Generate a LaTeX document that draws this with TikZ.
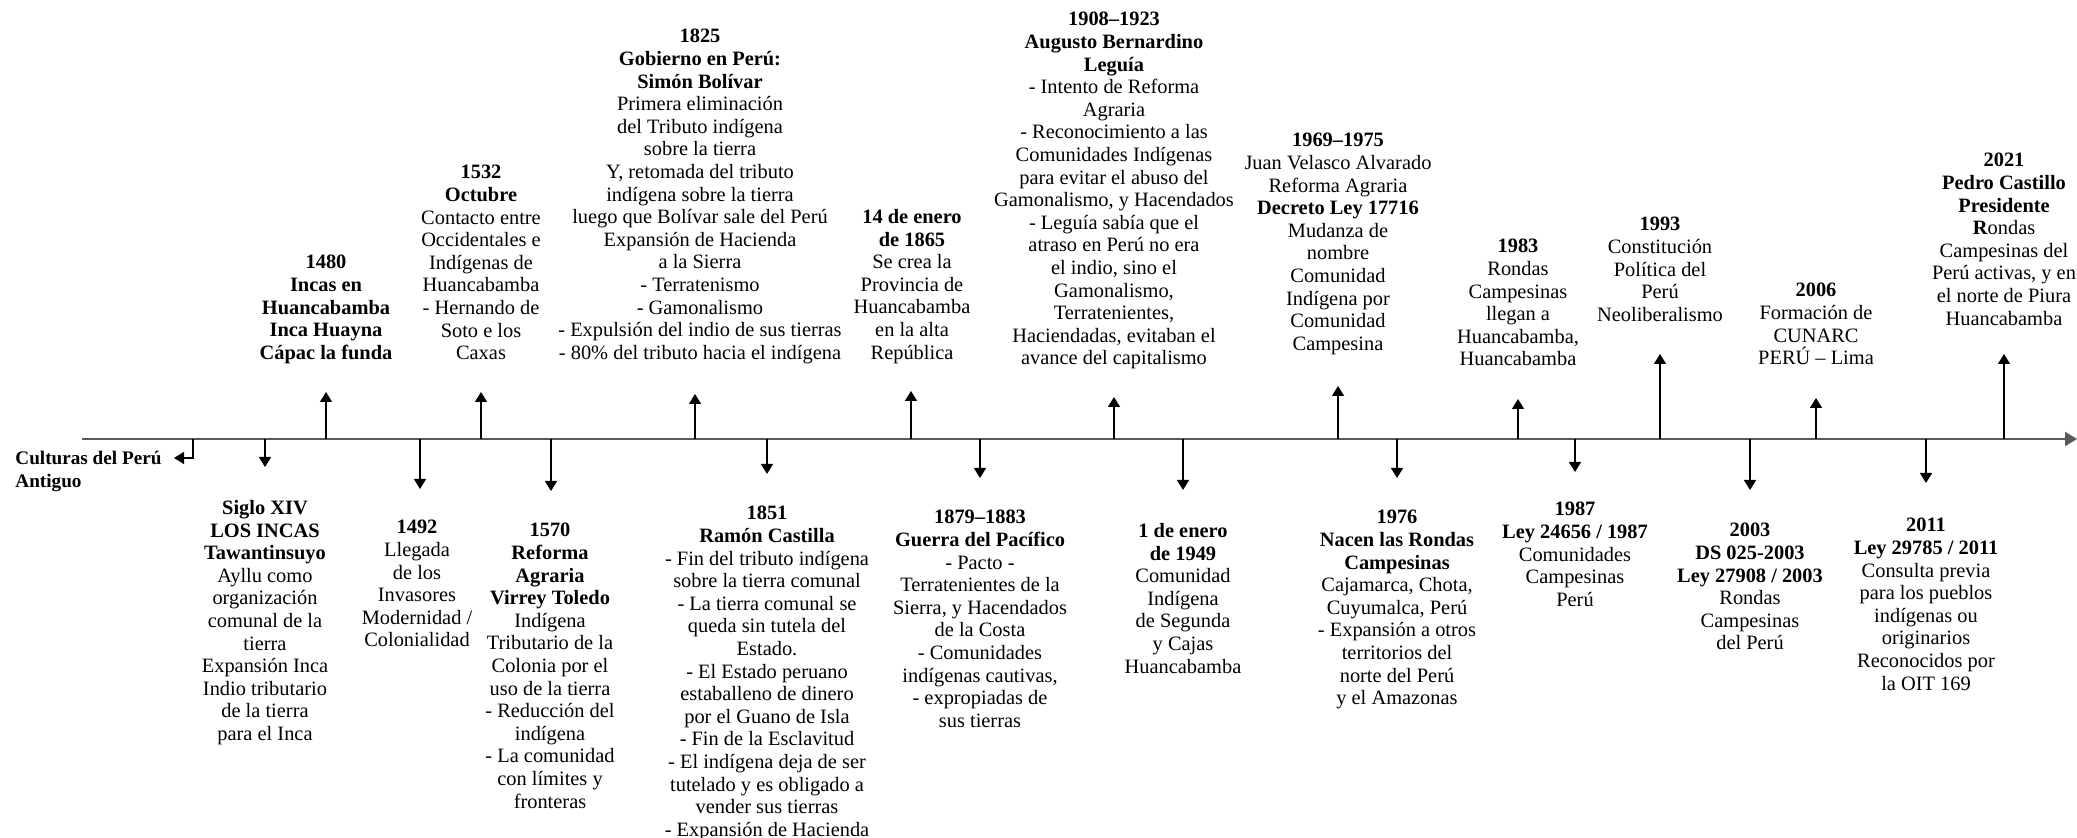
\documentclass[tikz,border=0pt]{standalone}
\usepackage{fontspec}
\setmainfont{Liberation Serif}
\usetikzlibrary{arrows.meta}

\begin{document}
\begin{tikzpicture}[x=0.5pt,y=-0.5pt,
                    txt/.style={align=center,inner sep=0pt,anchor=north,font=\fontsize{10.2}{11.3}\selectfont},
                    stem/.style={-{Triangle[length=5pt,width=6pt]},line width=0.65pt},
                    axis/.style={-{Triangle[length=6pt,width=7pt]},line width=1.15pt,black!65}]
                        \useasboundingbox (0,0) rectangle (2077,838);
                        \coordinate (inicio) at (82,439);
                        \coordinate (fin) at (2077,439);
                        \draw[axis] (inicio) to (fin);

                        \node[txt,align=left,anchor=north west,font=\fontsize{9.6}{11.3}\selectfont] (antiguo) at (15,451) {\textbf{Culturas del Perú}\\\textbf{Antiguo}};
                        \node[txt] (xiv) at (265,500) {\textbf{Siglo XIV}\\\textbf{LOS INCAS}\\\textbf{Tawantinsuyo}\\Ayllu como\\organización\\comunal de la\\tierra\\Expansión Inca\\Indio tributario\\de la tierra\\para el Inca};
                        \node[txt] (1480) at (326,255) {\textbf{1480}\\\textbf{Incas en}\\\textbf{Huancabamba}\\\textbf{Inca Huayna}\\\textbf{Cápac la funda}};
                        \node[txt] (1492) at (417,520) {\textbf{1492}\\Llegada\\de los\\Invasores\\Modernidad /\\Colonialidad};
                        \node[txt] (1532) at (481,165) {\textbf{1532}\\\textbf{Octubre}\\Contacto entre\\Occidentales e\\Indígenas de\\Huancabamba\\- Hernando de\\Soto e los\\Caxas};
                        \node[txt] (1570) at (550,523) {\textbf{1570}\\\textbf{Reforma}\\\textbf{Agraria}\\\textbf{Virrey Toledo}\\Indígena\\Tributario de la\\Colonia por el\\uso de la tierra\\- Reducción del\\indígena\\- La comunidad\\con límites y\\fronteras};
                        \node[txt] (1825) at (700,29) {\textbf{1825}\\\textbf{Gobierno en Perú:}\\\textbf{Simón Bolívar}\\Primera eliminación\\del Tributo indígena\\sobre la tierra\\Y, retomada del tributo\\indígena sobre la tierra\\luego que Bolívar sale del Perú\\Expansión de Hacienda\\a la Sierra\\- Terratenismo\\- Gamonalismo\\- Expulsión del indio de sus tierras\\- 80\% del tributo hacia el indígena};
                        \node[txt] (1851) at (767,506) {\textbf{1851}\\\textbf{Ramón Castilla}\\- Fin del tributo indígena\\sobre la tierra comunal\\- La tierra comunal se\\queda sin tutela del\\Estado.\\- El Estado peruano\\estaballeno de dinero\\por el Guano de Isla\\- Fin de la Esclavitud\\- El indígena deja de ser\\tutelado y es obligado a\\vender sus tierras\\- Expansión de Hacienda};
                        \node[txt] (1865) at (912,209) {\textbf{14 de enero}\\\textbf{de 1865}\\Se crea la\\Provincia de\\Huancabamba\\en la alta\\República};
                        \node[txt] (1879) at (980,510) {\textbf{1879–1883}\\\textbf{Guerra del Pacífico}\\- Pacto -\\Terratenientes de la\\Sierra, y Hacendados\\de la Costa\\- Comunidades\\indígenas cautivas,\\- expropiadas de\\sus tierras};
                        \node[txt] (1908) at (1114,12) {\textbf{1908–1923}\\\textbf{Augusto Bernardino}\\\textbf{Leguía}\\- Intento de Reforma\\Agraria\\- Reconocimiento a las\\Comunidades Indígenas\\para evitar el abuso del\\Gamonalismo, y Hacendados\\- Leguía sabía que el\\atraso en Perú no era\\el indio, sino el\\Gamonalismo,\\Terratenientes,\\Haciendadas, evitaban el\\avance del capitalismo};
                        \node[txt] (1949) at (1183,523) {\textbf{1 de enero}\\\textbf{de 1949}\\Comunidad\\Indígena\\de Segunda\\y Cajas\\Huancabamba};
                        \node[txt] (1969) at (1338,133) {\textbf{1969–1975}\\Juan Velasco Alvarado\\Reforma Agraria\\\textbf{Decreto Ley 17716}\\Mudanza de\\nombre\\Comunidad\\Indígena por\\Comunidad\\Campesina};
                        \node[txt] (1976) at (1397,510) {\textbf{1976}\\\textbf{Nacen las Rondas}\\\textbf{Campesinas}\\Cajamarca, Chota,\\Cuyumalca, Perú\\- Expansión a otros\\territorios del\\norte del Perú\\y el Amazonas};
                        \node[txt] (1983) at (1518,239) {\textbf{1983}\\Rondas\\Campesinas\\llegan a\\Huancabamba,\\Huancabamba};
                        \node[txt] (1987) at (1575,502) {\textbf{1987}\\\textbf{Ley 24656 / 1987}\\Comunidades\\Campesinas\\Perú};
                        \node[txt] (1993) at (1660,217) {\textbf{1993}\\Constitución\\Política del\\Perú\\Neoliberalismo};
                        \node[txt] (2003) at (1750,523) {\textbf{2003}\\\textbf{DS 025-2003}\\\textbf{Ley 27908 / 2003}\\Rondas\\Campesinas\\del Perú};
                        \node[txt] (2006) at (1816,283) {\textbf{2006}\\Formación de\\CUNARC\\PERÚ – Lima};
                        \node[txt] (2011) at (1926,518) {\textbf{2011}\\\textbf{Ley 29785 / 2011}\\Consulta previa\\para los pueblos\\indígenas ou\\originarios\\Reconocidos por\\la OIT 169};
                        \node[txt] (2021) at (2004,153) {\textbf{2021}\\\textbf{Pedro Castillo}\\\textbf{Presidente}\\\textbf{R}ondas\\Campesinas del\\Perú activas, y en\\el norte de Piura\\Huancabamba};

                        \coordinate (tantiguo) at (193,439);
                        \coordinate (pantiguo) at (174,458);
                        \draw[stem] (tantiguo) |- (pantiguo);

                        \coordinate (txiv) at (265,439);  \coordinate (pxiv) at (265,467);
                        \coordinate (t1480) at (326,439); \coordinate (p1480) at (326,392);
                        \coordinate (t1492) at (420,439); \coordinate (p1492) at (420,489);
                        \coordinate (t1532) at (481,439); \coordinate (p1532) at (481,392);
                        \coordinate (t1570) at (551,439); \coordinate (p1570) at (551,491);
                        \coordinate (t1825) at (695,439); \coordinate (p1825) at (695,394);
                        \coordinate (t1851) at (767,439); \coordinate (p1851) at (767,474);
                        \coordinate (t1865) at (911,439); \coordinate (p1865) at (911,391);
                        \coordinate (t1879) at (980,439); \coordinate (p1879) at (980,478);
                        \coordinate (t1908) at (1114,439); \coordinate (p1908) at (1114,397);
                        \coordinate (t1949) at (1183,439); \coordinate (p1949) at (1183,490);
                        \coordinate (t1969) at (1338,439); \coordinate (p1969) at (1338,386);
                        \coordinate (t1976) at (1397,439); \coordinate (p1976) at (1397,478);
                        \coordinate (t1983) at (1518,439); \coordinate (p1983) at (1518,399);
                        \coordinate (t1987) at (1575,439); \coordinate (p1987) at (1575,472);
                        \coordinate (t1993) at (1660,439); \coordinate (p1993) at (1660,354);
                        \coordinate (t2003) at (1750,439); \coordinate (p2003) at (1750,490);
                        \coordinate (t2006) at (1816,439); \coordinate (p2006) at (1816,398);
                        \coordinate (t2011) at (1926,439); \coordinate (p2011) at (1926,483);
                        \coordinate (t2021) at (2004,439); \coordinate (p2021) at (2004,354);

                        \draw[stem] (txiv) to (pxiv);
                        \draw[stem] (t1480) to (p1480);
                        \draw[stem] (t1492) to (p1492);
                        \draw[stem] (t1532) to (p1532);
                        \draw[stem] (t1570) to (p1570);
                        \draw[stem] (t1825) to (p1825);
                        \draw[stem] (t1851) to (p1851);
                        \draw[stem] (t1865) to (p1865);
                        \draw[stem] (t1879) to (p1879);
                        \draw[stem] (t1908) to (p1908);
                        \draw[stem] (t1949) to (p1949);
                        \draw[stem] (t1969) to (p1969);
                        \draw[stem] (t1976) to (p1976);
                        \draw[stem] (t1983) to (p1983);
                        \draw[stem] (t1987) to (p1987);
                        \draw[stem] (t1993) to (p1993);
                        \draw[stem] (t2003) to (p2003);
                        \draw[stem] (t2006) to (p2006);
                        \draw[stem] (t2011) to (p2011);
                        \draw[stem] (t2021) to (p2021);
                  \end{tikzpicture}
\end{document}
